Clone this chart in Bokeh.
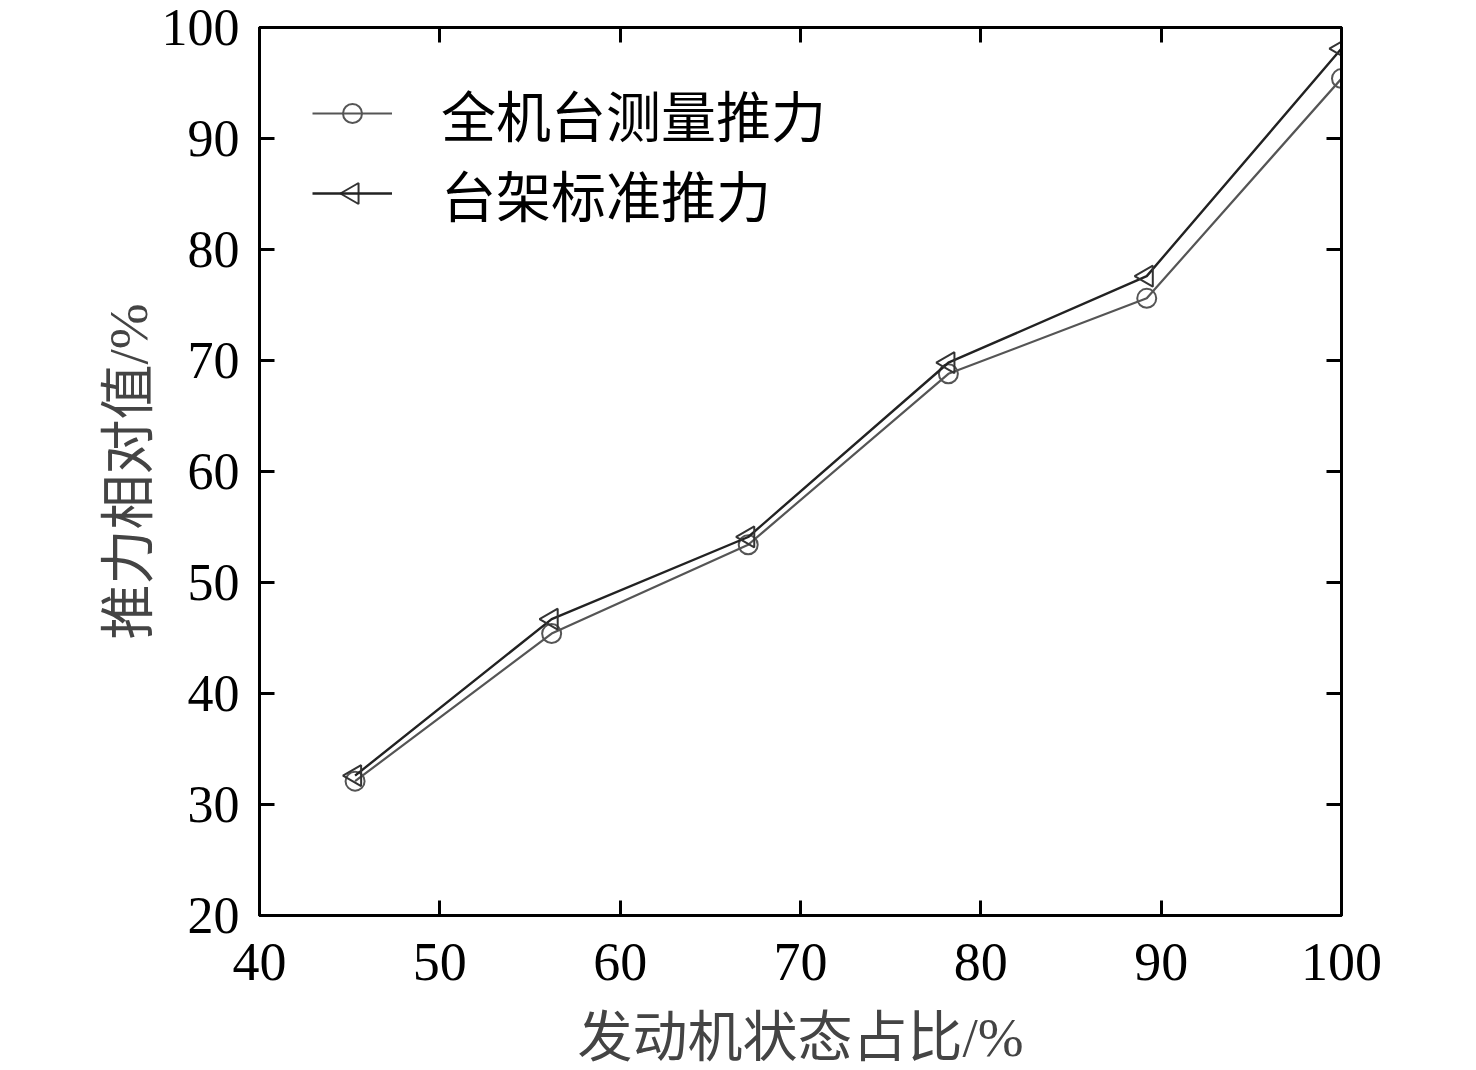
import math
from bokeh.plotting import figure
from bokeh.models import LinearAxis, Range1d, FixedTicker, Legend, LegendItem
from bokeh.embed import file_html
from bokeh.resources import INLINE

# data
state_pct = [45.3, 56.2, 67.1, 78.2, 89.2, 100.0]
measured = [32.1, 45.4, 53.4, 68.8, 75.6, 95.4]
standard = [32.6, 46.7, 54.1, 69.8, 77.6, 98.1]
x_ticks = [40, 50, 60, 70, 80, 90, 100]
y_ticks = [20, 30, 40, 50, 60, 70, 80, 90, 100]
label_measured = "全机台测量推力"
label_standard = "台架标准推力"
x_title = "发动机状态占比/%"
y_title = "推力相对值/%"

SERIF = "'Liberation Serif', 'Noto Sans CJK SC'"
CJK = "'Noto Sans CJK SC'"

X0, X1, Y0, Y1 = 40, 100, 20, 100
FW, FH = 1082, 888

p = figure(width=1468, height=1062, frame_width=FW, frame_height=FH,
           x_range=Range1d(X0, X1), y_range=Range1d(Y0, Y1),
           output_backend="svg", toolbar_location=None,
           min_border_left=259, min_border_top=27, min_border_right=127,
           min_border_bottom=147, x_axis_location=None, y_axis_location=None)
p.grid.visible = False
p.background_fill_color = "white"
p.border_fill_color = "white"
p.outline_line_color = "black"
p.outline_line_width = 3


def style_axis(ax, ticks, font_size):
    ax.ticker = FixedTicker(ticks=ticks)
    ax.major_tick_in = 15
    ax.major_tick_out = 0
    ax.minor_tick_in = 0
    ax.minor_tick_out = 0
    ax.major_tick_line_width = 3
    ax.axis_line_width = 3
    ax.major_label_text_font = SERIF
    ax.major_label_text_font_size = font_size
    ax.major_label_text_color = "black" if font_size != "0px" else None
    ax.major_label_standoff = 0


xb = LinearAxis()
xt = LinearAxis()
yl = LinearAxis()
yr = LinearAxis()
style_axis(xb, x_ticks, "54px")
style_axis(xt, x_ticks, "0px")
style_axis(yl, y_ticks, "52px")
style_axis(yr, y_ticks, "0px")
xb.major_label_standoff = 28
yl.major_label_standoff = 20

xb.axis_label = x_title
xb.axis_label_text_font = SERIF
xb.axis_label_text_font_size = "55px"
xb.axis_label_text_font_style = "normal"
xb.axis_label_standoff = 24
yl.axis_label = y_title
yl.axis_label_text_font = SERIF
yl.axis_label_text_font_size = "55px"
yl.axis_label_text_font_style = "normal"
yl.axis_label_standoff = 0

p.add_layout(xb, "below")
p.add_layout(xt, "above")
p.add_layout(yl, "left")
p.add_layout(yr, "right")

l1 = p.line(state_pct, measured, line_color="#555555", line_width=2.2)
m1 = p.scatter(state_pct, measured, marker="circle", size=19, fill_color=None,
               line_color="#555555", line_width=2)
l2 = p.line(state_pct, standard, line_color="#222222", line_width=2.4)
m2 = p.scatter(state_pct, standard, marker="triangle", size=21, angle=math.pi / 2,
               fill_color=None, line_color="#333333", line_width=2)

# legend layout (screen px relative to frame bottom-left): one legend per row
LEG_X = 53
ROW_CENTERS = [802, 722]
GLYPH_W, ROW_H = 80, 90


def make_legend(label, line_renderer, center):
    lg = Legend(items=[LegendItem(label=label, renderers=[line_renderer])],
                location=(LEG_X, center - ROW_H / 2), orientation="vertical")
    lg.border_line_color = None
    lg.background_fill_alpha = 0
    lg.label_text_font = CJK
    lg.label_text_font_size = "55px"
    lg.label_text_color = "black"
    lg.glyph_width = GLYPH_W
    lg.glyph_height = ROW_H
    lg.label_height = ROW_H
    lg.label_standoff = 49
    lg.spacing = 0
    lg.padding = 0
    lg.margin = 0
    p.add_layout(lg, "center")


make_legend(label_measured, l1, ROW_CENTERS[0])
make_legend(label_standard, l2, ROW_CENTERS[1])

# legend marker samples (Bokeh legends ignore marker angle, so draw them here)
leg_x = X0 + (LEG_X + GLYPH_W / 2) / FW * (X1 - X0)
leg_y = [Y0 + c / FH * (Y1 - Y0) for c in ROW_CENTERS]
p.scatter([leg_x], [leg_y[0]], marker="circle", size=19, fill_color="white",
          line_color="#555555", line_width=2, level="overlay")
p.scatter([leg_x], [leg_y[1]], marker="triangle", size=21, angle=math.pi / 2,
          fill_color="white", line_color="#333333", line_width=2, level="overlay")

open("out.html", "w").write(file_html(p, INLINE))
